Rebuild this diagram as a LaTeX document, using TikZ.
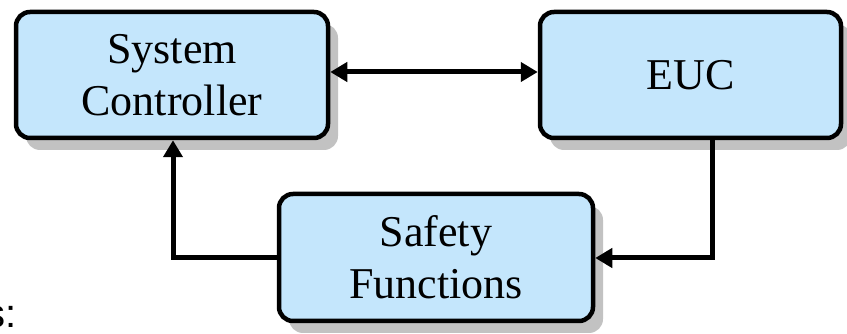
\documentclass[tikz,border=0pt]{standalone}
\usepackage{fontspec}
\setmainfont{Liberation Serif}
\setsansfont{Liberation Sans}
\usetikzlibrary{arrows.meta,shadows}
\definecolor{boxblue}{HTML}{C4E6FC}
\definecolor{shadowgray}{HTML}{C2C2C2}
\begin{document}
\begin{tikzpicture}[x=1pt,y=1pt,
  block/.style={draw=black, line width=4.5pt, fill=boxblue, rounded corners=14pt,
    align=center, inner sep=0pt,
    font=\fontsize{44}{52}\selectfont,
    drop shadow={shadow xshift=10pt, shadow yshift=-12pt, opacity=1, fill=shadowgray}},
  link/.style={line width=5pt, -{Triangle[length=17pt,width=19pt]}},
  biglink/.style={line width=5pt, {Triangle[length=17pt,width=19pt]}-{Triangle[length=17pt,width=19pt]}}
]
\useasboundingbox (0,0) rectangle (847,334);

\node[block, minimum width=312pt, minimum height=126pt] (sc) at (172,259) {System\\Controller};
\node[block, minimum width=301pt, minimum height=126pt] (euc) at (690.5,259) {EUC};
\node[block, minimum width=314pt, minimum height=127pt] (sf) at (436,76.5) {Safety\\Functions};

\node[anchor=base east, font=\sffamily\fontsize{40}{48}\selectfont, inner sep=0pt] (tail) at (17,6) {s:};

% controller <-> equipment under control
\draw[biglink] (sc.east |- 0,262) -- (euc.west |- 0,262);
% EUC feeds the safety functions
\coordinate (ec) at (712,76);
\draw[link] (euc.south -| ec) -- (ec) -- (sf.east |- ec);
% safety functions report back to the controller
\coordinate (sw) at (173,76);
\draw[link] (sf.west |- sw) -- (sw) -- (sc.south -| sw);
\end{tikzpicture}
\end{document}
